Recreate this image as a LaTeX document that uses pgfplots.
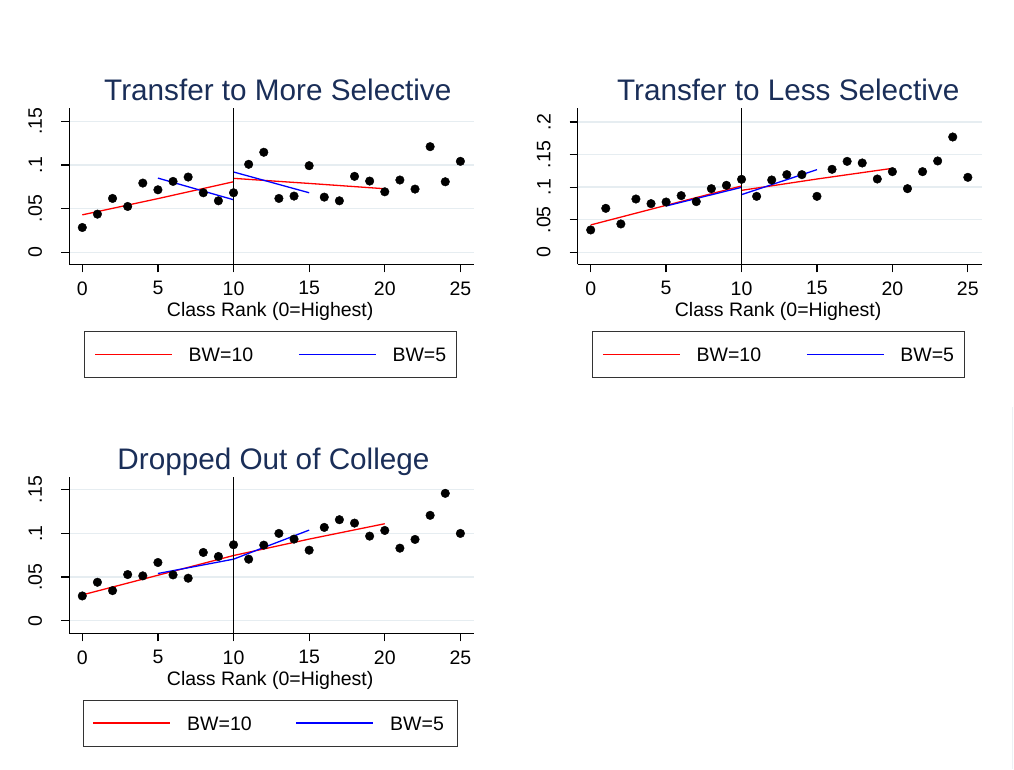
\documentclass[border=0pt]{standalone}
\usepackage{fontspec}
\setmainfont{Liberation Sans}
\usepackage{pgfplots}
\pgfplotsset{compat=1.18}
\definecolor{titlec}{RGB}{26,46,88}
\definecolor{gridc}{RGB}{230,237,241}
\definecolor{fitred}{RGB}{255,0,0}
\definecolor{fitblue}{RGB}{0,0,255}
\definecolor{edgec}{RGB}{236,241,244}
\newcommand\fs{\fontsize{19.5}{23}\selectfont}
\newcommand\ft{\fontsize{29.7}{35}\selectfont}
\pgfplotsset{
  stata/.style={
    scale only axis, width=405pt, height=156.3pt,
    anchor=south west,
    axis x line*=bottom, axis y line*=left,
    axis line style={line width=1.4pt, black},
    xmin=-0.86, xmax=25.92,
    xtick={0,5,10,15,20,25}, xticklabels={0,5,10,15,20,25},
    tick align=outside, major tick length=8pt,
    tick style={line width=1.3pt, black},
    ymajorgrids, grid style={line width=1.5pt, gridc},
    ticklabel style={font=\fs},
    xticklabel style={anchor=north, inner sep=0pt, yshift=-9pt},
    yticklabel style={rotate=90, anchor=south, inner sep=0pt, yshift=19pt},
    xlabel={Class Rank (0=Highest)},
    xlabel style={font=\fs, anchor=base, at={(0.5,0)}, yshift=-51.7pt, xshift=-1.6pt},
    title style={font=\ft, color=titlec, anchor=base, at={(0.5,1)}, yshift=1.2pt},
    unbounded coords=jump,
    clip=false,
    legend columns=2,
    legend image code/.code={\draw[##1] (0pt,0pt) -- (77pt,0pt);},
    legend style={at={(0.5,0)}, anchor=north, yshift=-67pt, xshift=-1.5pt,
      draw=black!80, line width=1pt, inner xsep=10pt, inner ysep=16pt,
      font=\fs, nodes={inner sep=0pt, text depth=0pt},
      /tikz/every odd column/.append style={column sep=16pt},
      /tikz/every even column/.append style={column sep=45pt},
      cells={anchor=west}},
  },
  dots/.style={only marks, mark=*, mark size=4.3pt, black, forget plot},
  redfit/.style={color=fitred, line width=1.3pt, mark=none},
  bluefit/.style={color=fitblue, line width=1.3pt, mark=none},
  vline/.style={black, line width=1.8pt, forget plot},
}
\begin{document}
\begin{tikzpicture}
\path[use as bounding box] (0,0) rectangle (1014pt,769pt);
\draw[line width=1pt, edgec] (1012pt,362pt) -- (1012pt,0pt);
% Panel 1
\begin{axis}[stata, at={(69.3pt,504.7pt)},
  ymin=-0.01375, ymax=0.1653,
  ytick={0,0.05,0.1,0.15}, yticklabels={0,.05,.1,.15},
  title={Transfer to More Selective}, title style={xshift=6pt}]
\addplot[dots] coordinates {
(0,0.0284)(1,0.0437)(2,0.0617)(3,0.0525)(4,0.0793)(5,0.0716)(6,0.0812)
(7,0.0862)(8,0.0682)(9,0.059)(10,0.0682)(11,0.1008)(12,0.1146)(13,0.0617)
(14,0.0644)(15,0.0992)(16,0.0632)(17,0.059)(18,0.087)(19,0.0816)(20,0.0693)
(21,0.0828)(22,0.0724)(23,0.121)(24,0.0808)(25,0.1042)};
\addplot[redfit] coordinates {(0,0.0429)(5,0.0615)(10,0.0808)(10,nan)(10,0.0847)(15,0.0789)(20,0.0728)};
\addlegendentry{BW=10}
\addplot[bluefit] coordinates {(5,0.085)(10,0.0602)(10,nan)(10,0.092)(15,0.0682)};
\addlegendentry{BW=5}
\addplot[vline] coordinates {(10,-0.01375)(10,0.1653)};
\end{axis}
% Panel 2
\begin{axis}[stata, at={(577.7pt,504.7pt)}, width=404pt,
  ymin=-0.0184, ymax=0.2215,
  ytick={0,0.05,0.1,0.15,0.2}, yticklabels={0,.05,.1,.15,.2},
  title={Transfer to Less Selective}, title style={xshift=8.5pt}]
\addplot[dots] coordinates {
(0,0.0343)(1,0.0675)(2,0.0435)(3,0.0818)(4,0.0747)(5,0.0772)(6,0.087)
(7,0.0778)(8,0.0977)(9,0.1028)(10,0.112)(11,0.0859)(12,0.111)(13,0.1192)
(14,0.1192)(15,0.0859)(16,0.1274)(17,0.1396)(18,0.1371)(19,0.1125)(20,0.1238)
(21,0.0977)(22,0.1238)(23,0.1402)(24,0.177)(25,0.1151)};
\addplot[redfit] coordinates {(0,0.042)(5,0.0721)(10,0.1018)(10,nan)(10,0.0951)(15,0.1125)(20,0.1289)};
\addlegendentry{BW=10}
\addplot[bluefit] coordinates {(5,0.0711)(10,0.0997)(10,nan)(10,0.0885)(15,0.1269)};
\addlegendentry{BW=5}
\addplot[vline] coordinates {(10,-0.0184)(10,0.2215)};
\end{axis}
% Panel 3
\begin{axis}[stata, at={(69.3pt,135.7pt)},
  ymin=-0.01447, ymax=0.1645,
  ytick={0,0.05,0.1,0.15}, yticklabels={0,.05,.1,.15},
  title={Dropped Out of College}, title style={xshift=1.7pt}]
\addplot[dots] coordinates {
(0,0.0283)(1,0.044)(2,0.0344)(3,0.0528)(4,0.0513)(5,0.0666)(6,0.0524)
(7,0.0486)(8,0.0781)(9,0.0735)(10,0.0869)(11,0.0704)(12,0.0865)(13,0.0999)
(14,0.0934)(15,0.0807)(16,0.1068)(17,0.1156)(18,0.1117)(19,0.0968)(20,0.1033)
(21,0.083)(22,0.093)(23,0.1206)(24,0.1458)(25,0.0999)};
\addplot[redfit] coordinates {(0,0.0295)(5,0.052)(10,0.0746)(10,nan)(10,0.0746)(15,0.0934)(20,0.111)};
\addplot[bluefit] coordinates {(5,0.054)(10,0.0704)(10,nan)(10,0.0704)(12,0.0838)(15,0.1037)};
\addplot[vline] coordinates {(10,-0.01447)(10,0.1645)};
\end{axis}
% legend of panel 3
\draw[black!80, line width=1pt] (83pt,23pt) rectangle (457pt,69pt);
\draw[fitred, line width=1.3pt] (93pt,46pt) -- (170pt,46pt);
\draw[fitblue, line width=1.3pt] (296pt,46pt) -- (373pt,46pt);
\node[font=\fs, anchor=base west, inner sep=0pt] at (187pt,39pt) {BW=10};
\node[font=\fs, anchor=base west, inner sep=0pt] at (390pt,39pt) {BW=5};
\end{tikzpicture}
\end{document}
